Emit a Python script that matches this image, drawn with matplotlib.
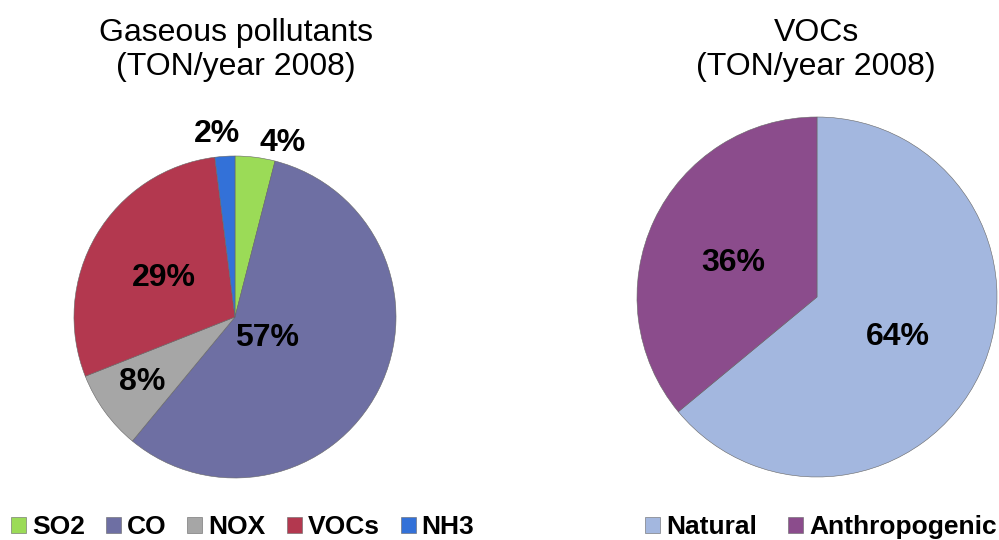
import matplotlib.pyplot as plt
import numpy as np

plt.rcParams['font.family'] = ['Liberation Sans', 'DejaVu Sans']

# left pie: gaseous pollutants
gas_labels = ['SO2', 'CO', 'NOX', 'VOCs', 'NH3']
gas_values = [4, 57, 8, 29, 2]
gas_colors = ['#9BDB57', '#6E6FA3', '#A6A6A6', '#B3384F', '#3371D8']

# right pie: VOCs
voc_labels = ['Natural', 'Anthropogenic']
voc_values = [64, 36]
voc_colors = ['#A3B7DF', '#8B4C8C']

def DrawPie(ax, values, colors, center, radius, explode, label_dist, label_turn):
  wedges, _ = ax.pie(values, colors=colors, startangle=90, counterclock=False,
                     center=center, radius=radius, explode=explode,
                     wedgeprops=dict(linewidth=0.4, edgecolor='#666666'))
  total = float(sum(values))
  # percentage labels, placed near each wedge's middle angle
  for w, v, d, t in zip(wedges, values, label_dist, label_turn):
    ang = np.deg2rad((w.theta1 + w.theta2) / 2.0 + t)
    cx, cy = w.center
    ax.text(cx + d * radius * np.cos(ang), cy + d * radius * np.sin(ang),
            '%d%%' % round(100 * v / total), ha='center', va='center',
            fontsize=23, fontweight='bold', color='black')
  return wedges

fig = plt.figure(figsize=(9.99, 5.4), dpi=100)
ax = fig.add_axes([0, 0, 1, 1])

gas_wedges = DrawPie(ax, gas_values, gas_colors, (235, 223), 161,
                     [0, 0, 0, 0.03, 0], [1.12, 0.24, 0.7, 0.5, 1.14],
                     [-8, -6, -1, 2, 2])
voc_wedges = DrawPie(ax, voc_values, voc_colors, (817, 243), 180,
                     [0, 0.015], [0.5, 0.5], [-1, 3])

# pie() resets the limits, so set them afterwards (1 unit = 1 pixel)
ax.set_xlim(0, 999)
ax.set_ylim(0, 540)
ax.set_aspect('equal')
ax.axis('off')

ax.text(236, 490, 'Gaseous pollutants\n(TON/year 2008)', ha='center', va='center',
        fontsize=23, linespacing=1.2)
ax.text(816, 490, 'VOCs\n(TON/year 2008)', ha='center', va='center',
        fontsize=23, linespacing=1.2)

leg1 = ax.legend(gas_wedges, gas_labels, loc='center left',
                 bbox_to_anchor=(11 / 999., 13 / 540.), ncol=5, frameon=False,
                 prop=dict(size=19, weight='bold'), handlelength=0.57,
                 handleheight=0.57, handletextpad=0.22, columnspacing=0.8,
                 borderpad=0, borderaxespad=0)
ax.add_artist(leg1)
ax.legend(voc_wedges, voc_labels, loc='center left',
          bbox_to_anchor=(645 / 999., 13 / 540.), ncol=2, frameon=False,
          prop=dict(size=19, weight='bold'), handlelength=0.57,
          handleheight=0.57, handletextpad=0.22, columnspacing=1.2,
          borderpad=0, borderaxespad=0)

fig.savefig('out.png', dpi=100)
plt.close()
